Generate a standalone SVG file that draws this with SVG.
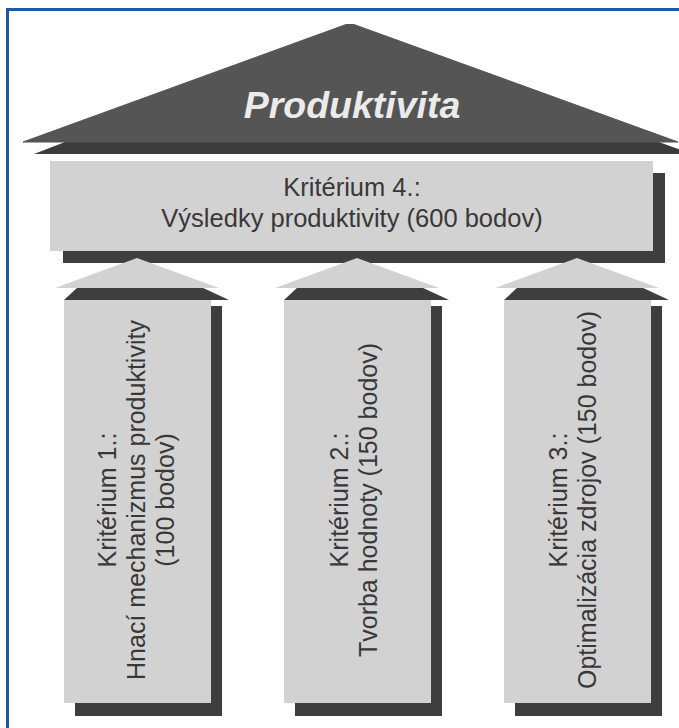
<svg xmlns="http://www.w3.org/2000/svg" width="679" height="728" viewBox="0 0 679 728">
<style>
  .light { fill: #d2d2d2; }
  .dark { fill: #3e3e3e; }
  .roof { fill: #555555; }
  .roofdark { fill: #3b3b3b; }
  .txt { font-family: "Liberation Sans", Arial, sans-serif; fill: #383838; text-anchor: middle; }
  .pt { font-size: 25px; }
  .bt { font-size: 25.5px; }
  .title { font-family: "Liberation Sans", Arial, sans-serif; font-size: 37.5px; font-weight: bold; font-style: italic; fill: #ebebeb; text-anchor: middle; }
</style>
<rect x="0" y="0" width="679" height="728" fill="#ffffff"/>
<g id="frame" fill="none" stroke="#1c58a4" stroke-width="3">
  <polyline points="7.5,728 7.5,9.5 679,9.5"/>
</g>
<g id="roof">
  <polygon class="roofdark" points="350,32 34,154 692,154"/>
  <polygon class="roof" points="346,24.5 354,24.5 678,142 23,142" stroke="#555555" stroke-width="1" stroke-linejoin="round"/>
  <text class="title" x="352" y="118">Produktivita</text>
</g>
<g id="criterion4">
  <rect class="dark" x="63" y="173" width="602" height="90"/>
  <rect class="light" x="50" y="161" width="603" height="90"/>
  <text class="txt bt" x="352" y="196">Kritérium 4.:</text>
  <text class="txt bt" x="352" y="227">Výsledky produktivity (600 bodov)</text>
</g>
<g id="connectors">
  <polygon class="dark" points="78,287 201,287 229,300 64,300"/>
  <polygon class="light" points="137,258 55,288 219,288"/>
  <polygon class="dark" points="298,287 421,287 449,300 284,300"/>
  <polygon class="light" points="357,258 275,288 439,288"/>
  <polygon class="dark" points="518,287 641,287 669,300 504,300"/>
  <polygon class="light" points="577,258 495,288 659,288"/>
</g>
<g id="criterion1">
  <rect class="dark" x="75" y="306" width="147" height="410"/>
  <rect class="light" x="64" y="300" width="147" height="403"/>
  <text class="txt pt" transform="translate(116,500) rotate(-90)">Kritérium 1.:</text>
  <text class="txt pt" transform="translate(145,500) rotate(-90)">Hnací mechanizmus produktivity</text>
  <text class="txt pt" transform="translate(174,500) rotate(-90)">(100 bodov)</text>
</g>
<g id="criterion2">
  <rect class="dark" x="295" y="306" width="147" height="410"/>
  <rect class="light" x="284" y="300" width="147" height="403"/>
  <text class="txt pt" transform="translate(348,500) rotate(-90)">Kritérium 2.:</text>
  <text class="txt pt" transform="translate(377,500) rotate(-90)">Tvorba hodnoty (150 bodov)</text>
</g>
<g id="criterion3">
  <rect class="dark" x="515" y="306" width="147" height="410"/>
  <rect class="light" x="504" y="300" width="147" height="403"/>
  <text class="txt pt" transform="translate(567,500) rotate(-90)">Kritérium 3.:</text>
  <text class="txt pt" transform="translate(596,500) rotate(-90)">Optimalizácia zdrojov (150 bodov)</text>
</g>
</svg>
